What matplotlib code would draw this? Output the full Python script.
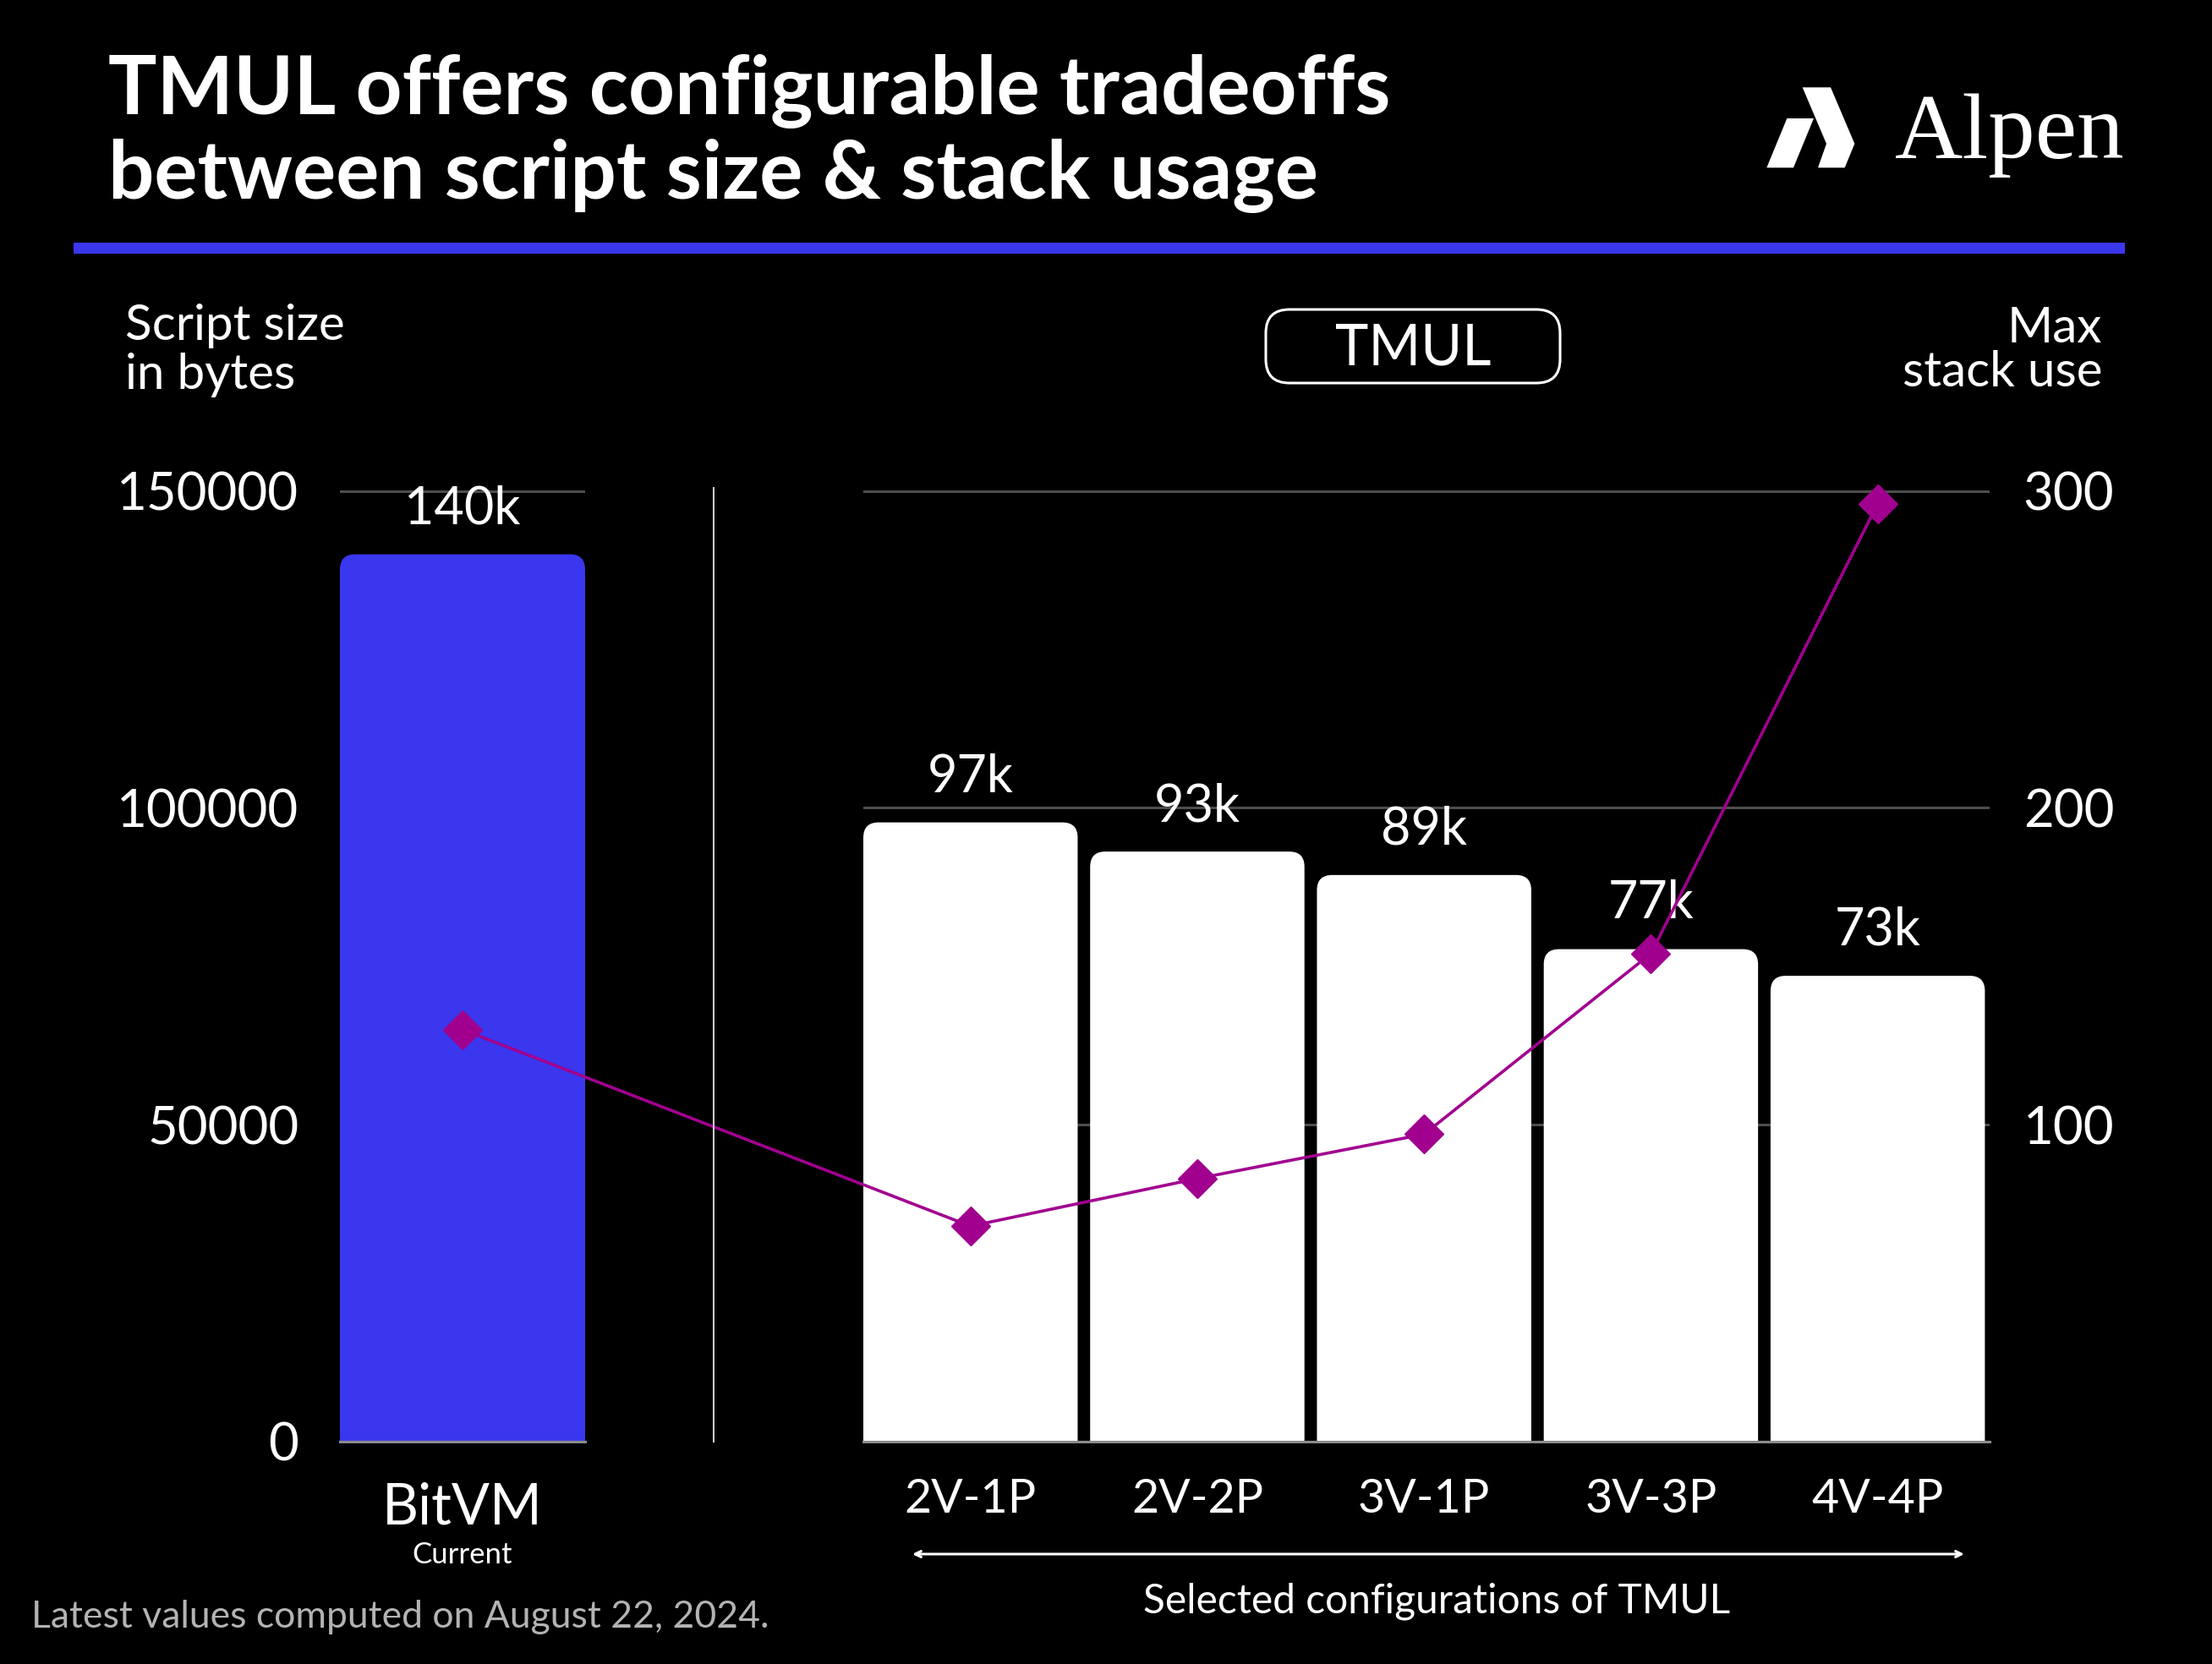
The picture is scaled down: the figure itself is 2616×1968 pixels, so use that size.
import matplotlib
matplotlib.use('Agg')
import matplotlib.pyplot as plt
from matplotlib.patches import FancyBboxPatch, Polygon, Rectangle
from matplotlib.lines import Line2D

plt.rcParams['font.family'] = ['Lato', 'DejaVu Sans']

# ---------------- data ----------------
bitvm_label = ['BitVM']
bitvm_size = [140000]
tmul_configs = ['2V-1P', '2V-2P', '3V-1P', '3V-3P', '4V-4P']
tmul_sizes = [97700, 93100, 89400, 77700, 73500]
stack_bitvm = [130]
stack_tmul = [68, 83, 97, 154, 296]
size_ticks = [0, 50000, 100000, 150000]
stack_ticks = [100, 200, 300]

# ---------------- style ----------------
W, H, DPI = 26.16, 19.68, 100
BG = '#000000'
BLUE = '#3A37EE'
MAG = '#A1008F'
GRID = '#4D4D4D'
AXIS = '#8C8C8C'
WHITE = '#FFFFFF'

fig = plt.figure(figsize=(W, H), dpi=DPI, facecolor=BG)
TI = fig.dpi_scale_trans


def P(x, y):
    """pixel position measured from the top-left -> inches from bottom-left"""
    return (x / DPI, (H * DPI - y) / DPI)


YMAX = 156000
px_per_unit = 1124.4 / 150000
bottom_px = 1705
ax_h_px = YMAX * px_per_unit


def rect(x0, x1):
    return [x0 / (W * DPI), (H * DPI - bottom_px) / (H * DPI),
            (x1 - x0) / (W * DPI), ax_h_px / (H * DPI)]


axL = fig.add_axes(rect(402, 692))
axR = fig.add_axes(rect(1021, 2352.5))

for ax in (axL, axR):
    ax.set_facecolor('none')
    ax.set_ylim(0, YMAX)
    for s in ['top', 'right', 'left']:
        ax.spines[s].set_visible(False)
    ax.spines['bottom'].set_color(AXIS)
    ax.spines['bottom'].set_linewidth(2.2)
    ax.set_yticks(size_ticks)
    ax.yaxis.grid(True, color=GRID, lw=2.2)
    ax.set_axisbelow(True)
    ax.tick_params(length=0)

axL.tick_params(axis='y', labelsize=44.5, labelcolor=WHITE, pad=35)
axR.tick_params(axis='y', labelleft=False)

axL.set_xlim(-0.5, 0.5)
barsL = axL.bar(range(len(bitvm_size)), bitvm_size, width=1.0, color=BLUE)
BW = 0.945
axR.set_xlim(-BW / 2, len(tmul_sizes) - 1 + BW / 2 + 0.019)
barsR = axR.bar(range(len(tmul_sizes)), tmul_sizes, width=BW, color=WHITE)


def round_bars(ax, bars, r_px):
    x0, x1 = ax.get_xlim()
    y0, y1 = ax.get_ylim()
    bb = ax.get_position()
    wpx = bb.width * W * DPI
    hpx = bb.height * H * DPI
    ux = (x1 - x0) / wpx
    uy = (y1 - y0) / hpx
    for b in bars:
        b.set_visible(False)
        x, w, h = b.get_x(), b.get_width(), b.get_height()
        ext = r_px * uy * 1.5
        p = FancyBboxPatch((x, -ext), w, h + ext,
                           boxstyle=f'round,pad=0,rounding_size={r_px * ux}',
                           mutation_aspect=uy / ux, fc=b.get_facecolor(),
                           ec='none', zorder=b.get_zorder())
        ax.add_patch(p)


round_bars(axL, barsL, 18)
round_bars(axR, barsR, 18)

for ax, xs, vals in [(axL, range(len(bitvm_size)), bitvm_size),
                     (axR, range(len(tmul_sizes)), tmul_sizes)]:
    for x, v in zip(xs, vals):
        ax.annotate(f'{int(v // 1000)}k', (x, v), xytext=(0, 26),
                    textcoords='offset points', ha='center', va='baseline',
                    color=WHITE, fontsize=44)

# x tick labels
axL.set_xticks(range(len(bitvm_label)), bitvm_label)
axL.tick_params(axis='x', labelsize=48, pad=34, labelcolor=WHITE)
axR.set_xticks(range(len(tmul_configs)), tmul_configs)
axR.tick_params(axis='x', labelsize=40, pad=31, labelcolor=WHITE)
axL.annotate('Current', xy=(0, 0), xycoords=('data', 'axes fraction'),
             xytext=(0, -104), textcoords='offset points', ha='center',
             va='baseline', fontsize=25, color=WHITE)

# stack-use line on twin axis
axT = axR.twinx()
axT.set_ylim(0, YMAX / 500)
axT.set_yticks(stack_ticks)
axT.tick_params(axis='y', length=0, labelsize=44.5, labelcolor=WHITE, pad=29)
for s in axT.spines.values():
    s.set_visible(False)
xd = axL.transData.transform((0, 0))[0]
bx = axR.transData.inverted().transform((xd, 0))[0]
axT.plot([bx] + list(range(len(stack_tmul))), stack_bitvm + stack_tmul,
         color=MAG, lw=2.6, marker='D', ms=23, clip_on=False, zorder=5)

# divider
fig.add_artist(Line2D([P(844, 577)[0], P(844, 1705)[0]],
                      [P(844, 577)[1], P(844, 1705)[1]],
                      transform=TI, color='#CCCCCC', lw=1.5))

# title
fig.text(*P(128, 135), 'TMUL offers configurable tradeoffs', transform=TI,
         fontsize=69, fontweight='bold', color=WHITE, va='baseline')
fig.text(*P(128, 235), 'between script size & stack usage', transform=TI,
         fontsize=69, fontweight='bold', color=WHITE, va='baseline')

# blue rule
fig.add_artist(Rectangle(P(87, 300), (2513 - 87) / DPI, 13 / DPI,
                         transform=TI, color=BLUE, lw=0))

# logo
def zp(zx, zy):
    return P(zx / 3 + 2060, zy / 3 + 80)

right_piece = [zp(215, 70), zp(315, 70), zp(400, 270), zp(365, 355),
               zp(270, 355), zp(300, 270)]
left_leg = [zp(88, 355), zp(183, 355), zp(255, 180), zp(160, 180)]
for poly in (right_piece, left_leg):
    fig.add_artist(Polygon(poly, closed=True, transform=TI, fc=WHITE, ec='none'))
fig.text(*P(2513, 187), 'Alpen', transform=TI, fontsize=80,
         family=['Liberation Serif', 'DejaVu Serif'], color=WHITE,
         ha='right', va='baseline')

# axis titles
fig.text(*P(148, 402), 'Script size', transform=TI, fontsize=42,
         color=WHITE, va='baseline')
fig.text(*P(148, 460), 'in bytes', transform=TI, fontsize=42,
         color=WHITE, va='baseline')
fig.text(*P(2486, 405), 'Max', transform=TI, fontsize=42,
         color=WHITE, va='baseline', ha='right')
fig.text(*P(2486, 457), 'stack use', transform=TI, fontsize=42,
         color=WHITE, va='baseline', ha='right')

# TMUL box
fig.add_artist(FancyBboxPatch(P(1497, 453), 348 / DPI, 87 / DPI,
                              boxstyle='round,pad=0,rounding_size=0.28',
                              transform=TI, fc='none', ec=WHITE, lw=2.2))
fig.text(*P(1671, 431), 'TMUL', transform=TI, fontsize=48, color=WHITE,
         ha='center', va='baseline')

# arrow + caption
axR.annotate('', xy=P(2323, 1838), xytext=P(1079, 1838), xycoords=TI,
             textcoords=TI, annotation_clip=False,
             arrowprops=dict(arrowstyle='<->,head_length=0.5,head_width=0.25',
                             color=WHITE, lw=2.2, shrinkA=0, shrinkB=0))
fig.text(*P(1699, 1907), 'Selected configurations of TMUL', transform=TI,
         fontsize=34.5, color=WHITE, ha='center', va='baseline')

# footnote
fig.text(*P(37, 1925), 'Latest values computed on August 22, 2024.',
         transform=TI, fontsize=32, color='#B3B3B3', va='baseline')

fig.savefig('out.png', dpi=DPI, facecolor=BG)
